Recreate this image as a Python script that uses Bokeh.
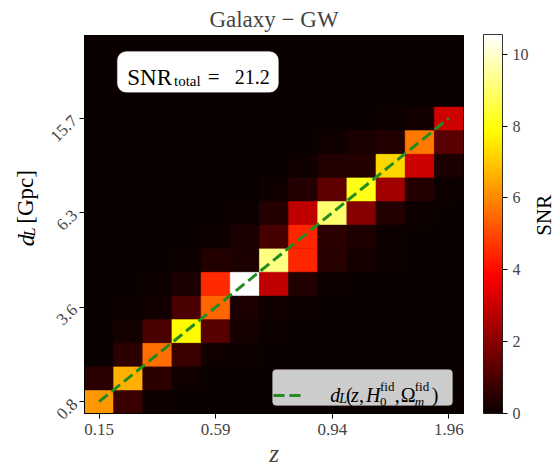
import math
from bokeh.plotting import figure
from bokeh.layouts import row
from bokeh.models import (Range1d, FixedTicker, ColorBar, LinearColorMapper, Label,
                          BoxAnnotation, ColumnDataSource, Legend, LegendItem)
from bokeh.embed import file_html
from bokeh.resources import INLINE

# ---------------- data ----------------
z_tick_labels = ["0.15", "0.59", "0.94", "1.96"]
dl_tick_labels = ["0.8", "3.6", "6.3", "15.7"]
tick_bins = [0, 4, 8, 12]
cbar_ticks = [0, 2, 4, 6, 8, 10]
snr_total = 21.2

# SNR per (d_L bin row, z bin column); row 0 = lowest d_L
snr_grid = [
    [6.25, 0.75, 0.06, 0.02, 0.02, 0.01, 0.01, 0.01, 0.00, 0.00, 0.00, 0.00, 0.00],
    [0.50, 6.60, 0.55, 0.10, 0.04, 0.02, 0.01, 0.01, 0.01, 0.00, 0.00, 0.00, 0.00],
    [0.04, 0.55, 5.60, 0.75, 0.10, 0.05, 0.02, 0.01, 0.01, 0.00, 0.00, 0.00, 0.00],
    [0.01, 0.18, 1.00, 7.80, 1.20, 0.18, 0.08, 0.03, 0.01, 0.01, 0.00, 0.00, 0.00],
    [0.01, 0.05, 0.16, 1.00, 5.45, 0.30, 0.12, 0.05, 0.02, 0.01, 0.01, 0.00, 0.00],
    [0.00, 0.02, 0.05, 0.26, 4.50, 10.55, 2.85, 0.35, 0.08, 0.04, 0.02, 0.01, 0.01],
    [0.00, 0.01, 0.02, 0.05, 0.38, 0.30, 9.20, 4.45, 0.47, 0.20, 0.07, 0.02, 0.01],
    [0.00, 0.00, 0.01, 0.02, 0.05, 0.28, 0.97, 4.45, 0.55, 0.30, 0.08, 0.03, 0.01],
    [0.00, 0.00, 0.00, 0.01, 0.02, 0.08, 0.44, 2.85, 9.00, 1.95, 0.45, 0.08, 0.04],
    [0.00, 0.00, 0.00, 0.00, 0.01, 0.03, 0.10, 0.44, 1.35, 8.10, 2.35, 0.45, 0.08],
    [0.00, 0.00, 0.00, 0.00, 0.00, 0.01, 0.03, 0.10, 0.38, 0.45, 7.25, 3.05, 0.28],
    [0.00, 0.00, 0.00, 0.00, 0.00, 0.00, 0.01, 0.03, 0.10, 0.25, 0.40, 5.75, 1.25],
    [0.00, 0.00, 0.00, 0.00, 0.00, 0.00, 0.00, 0.01, 0.03, 0.04, 0.06, 0.15, 3.10],
    [0.00, 0.00, 0.00, 0.00, 0.00, 0.00, 0.00, 0.00, 0.00, 0.00, 0.01, 0.02, 0.03],
    [0.00, 0.00, 0.00, 0.00, 0.00, 0.00, 0.00, 0.00, 0.00, 0.00, 0.00, 0.00, 0.01],
    [0.00, 0.00, 0.00, 0.00, 0.00, 0.00, 0.00, 0.00, 0.00, 0.00, 0.00, 0.00, 0.00],
]

# fiducial d_L(z) relation, in bin units (passes through bin centres)
fid_z_bin = [0, 2, 4, 6, 8, 10, 12]
fid_dl_bin = [0, 2, 4, 6, 8, 10, 12]

# ---------------- helpers ----------------
def hot_hex(f):
    r = min(1.0, 0.0416 + (1 - 0.0416) * f / 0.365079)
    g = 0.0 if f < 0.365079 else min(1.0, (f - 0.365079) / (0.746032 - 0.365079))
    b = 0.0 if f < 0.746032 else min(1.0, (f - 0.746032) / (1 - 0.746032))
    return "#%02x%02x%02x" % tuple(int(round(c * 255)) for c in (r, g, b))

hot = [hot_hex(i / 255) for i in range(256)]

n_rows = len(snr_grid)
n_cols = len(snr_grid[0])
xs, ys, vals = [], [], []
for r, row_vals in enumerate(snr_grid):
    for c, v in enumerate(row_vals):
        xs.append(c)
        ys.append(r)
        vals.append(v)
vmax = max(vals)
src = ColumnDataSource(dict(x=xs, y=ys, snr=vals))
mapper = LinearColorMapper(palette=hot, low=0, high=vmax)

FONT = "Liberation Serif"
W, H = 555, 470
LEFT_W = 40          # strip holding the y-axis title
RIGHT_W = 24         # strip holding the colour-bar title
FL, FR, FT, FB = 84, 465, 34, 413   # frame, in page pixels
MAIN_W = W - LEFT_W - RIGHT_W

def X(px):
    return -0.5 + (px - FL) * n_cols / (FR - FL)

def Y(py):
    return -0.5 + (FB - py) * n_rows / (FB - FT)

p = figure(width=MAIN_W, height=H, output_backend="svg", toolbar_location=None,
           x_range=Range1d(-0.5, n_cols - 0.5), y_range=Range1d(-0.5, n_rows - 0.5),
           min_border_left=FL - LEFT_W, min_border_right=LEFT_W + MAIN_W - FR,
           min_border_top=FT, min_border_bottom=H - FB)
p.background_fill_color = hot[0]
p.border_fill_color = "white"
p.outline_line_color = "black"
p.outline_line_width = 1
p.grid.visible = False

p.title.text = "Galaxy \u2212 GW"
p.title.text_font = FONT
p.title.text_font_size = "23px"
p.title.text_font_style = "normal"
p.title.align = "center"
p.title.standoff = 8

p.rect(x="x", y="y", width=1, height=1, source=src,
       fill_color={"field": "snr", "transform": mapper},
       line_color={"field": "snr", "transform": mapper}, line_width=0.6)

fid = p.line(fid_z_bin, fid_dl_bin, line_color="forestgreen", line_width=3,
             line_dash="11 5")

# axes
for ax, labels in ((p.xaxis[0], z_tick_labels), (p.yaxis[0], dl_tick_labels)):
    ax.ticker = FixedTicker(ticks=tick_bins)
    ax.major_label_overrides = {b: l for b, l in zip(tick_bins, labels)}
    ax.minor_tick_line_color = None
    ax.major_tick_in = 0
    ax.major_tick_out = 5
    ax.major_label_text_font = FONT
    ax.major_label_text_font_size = "17px"
    ax.major_label_standoff = 5
    ax.axis_line_color = "black"
p.yaxis[0].major_label_orientation = math.pi / 4
p.xaxis[0].axis_label = "z"
p.xaxis[0].axis_label_text_font = FONT
p.xaxis[0].axis_label_text_font_size = "25px"
p.xaxis[0].axis_label_text_font_style = "italic"
p.xaxis[0].axis_label_standoff = 2

# colour bar
cb = ColorBar(color_mapper=mapper, ticker=FixedTicker(ticks=cbar_ticks),
              width=19, height=FB - FT, margin=0, padding=0,
              location=(20, 0),
              major_tick_in=0, major_tick_out=5, major_tick_line_color="black",
              major_label_text_font=FONT, major_label_text_font_size="16px",
              label_standoff=5, bar_line_color="black", bar_line_width=0.8,
              background_fill_alpha=0, border_line_color=None)
p.add_layout(cb, "right")

def lab(fig, xf, yf, px, py, text, size, style="normal", align="left",
        baseline="alphabetic", angle=0.0):
    fig.add_layout(Label(x=xf(px), y=yf(py), text=text, text_font=FONT,
                         text_font_size="%dpx" % size, text_font_style=style,
                         text_align=align, text_baseline=baseline, angle=angle,
                         text_color="black"))

# SNR box
p.add_layout(BoxAnnotation(left=X(117), right=X(279), top=Y(50), bottom=Y(91),
                           fill_color="white", fill_alpha=1, line_color="#e6e6e6",
                           line_width=1, border_radius=9))
lab(p, X, Y, 127, 76, "SNR", 23)
lab(p, X, Y, 174, 80, "total", 15)
lab(p, X, Y, 208, 76, "=", 21)
lab(p, X, Y, 235, 76, "%.1f" % snr_total, 20)

# legend box, then a transparent legend for the dashed sample, then the text
p.add_layout(BoxAnnotation(left=X(273), right=X(454), top=Y(369), bottom=Y(405),
                           fill_color="#cccccc", fill_alpha=1, line_color="#a8a8a8",
                           line_width=1, border_radius=4))
leg = Legend(items=[LegendItem(label=" ", renderers=[fid])], location=(189, 8),
             padding=8, margin=0, glyph_width=31, glyph_height=20, label_width=126,
             label_height=20, label_standoff=8, background_fill_alpha=0,
             border_line_color=None, item_background_fill_alpha=0)
p.add_layout(leg, "center")

lab(p, X, Y, 331, 394, "d", 20, "italic")
lab(p, X, Y, 340, 398, "L", 14, "italic")
lab(p, X, Y, 347, 394, "(", 20)
lab(p, X, Y, 352, 394, "z", 20, "italic")
lab(p, X, Y, 360, 394, ",", 20)
lab(p, X, Y, 367, 394, "H", 20, "italic")
lab(p, X, Y, 381, 386, "fid", 13)
lab(p, X, Y, 381, 401, "0", 13)
lab(p, X, Y, 396, 394, ",", 20)
lab(p, X, Y, 402, 394, "\u03a9", 20)
lab(p, X, Y, 416, 386, "fid", 13)
lab(p, X, Y, 416, 401, "m", 13, "italic")
lab(p, X, Y, 433, 394, ")", 20)

# side strips carrying the rotated axis titles (page-pixel coordinates)
def strip(width, x0):
    s = figure(width=width, height=H, output_backend="svg", toolbar_location=None,
               x_range=Range1d(x0, x0 + width), y_range=Range1d(0, H),
               min_border=0, min_border_left=0, min_border_right=0,
               min_border_top=0, min_border_bottom=0)
    s.axis.visible = False
    s.grid.visible = False
    s.outline_line_color = None
    s.background_fill_color = "white"
    s.border_fill_color = "white"
    return s

ident = lambda v: v
flip = lambda v: H - v
left = strip(LEFT_W, 0)
lab(left, ident, flip, 25, 262, "d", 24, "italic", angle=math.pi / 2)
lab(left, ident, flip, 29, 250, "L", 16, "italic", angle=math.pi / 2)
lab(left, ident, flip, 25, 234, "[Gpc]", 23, angle=math.pi / 2)

right = strip(RIGHT_W, W - RIGHT_W)
lab(right, ident, flip, 543, (FT + FB) / 2, "SNR", 21, align="center",
    baseline="middle", angle=math.pi / 2)

layout = row(left, p, right)
open("out.html", "w").write(file_html(layout, INLINE))
